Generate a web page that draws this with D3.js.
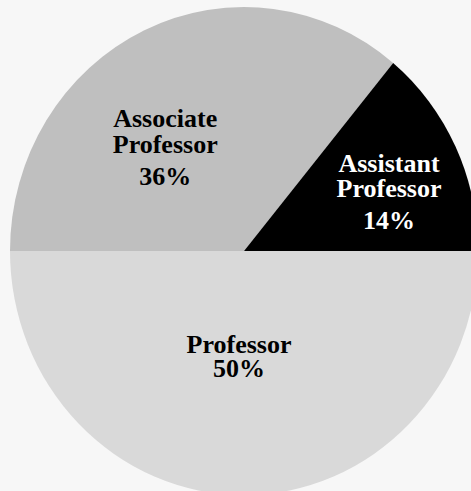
<!DOCTYPE html>
<html>
<head>
<meta charset="utf-8">
<script src="https://cdn.jsdelivr.net/npm/d3@7"></script>
<style>
  html, body { margin: 0; padding: 0; background: #f7f7f7; }
  svg { display: block; }
</style>
</head>
<body>
<svg id="chart" width="471" height="491"></svg>
<script>
// ---- data ----
const categories = ["Professor", "Associate Professor", "Assistant Professor"];
const values = [50, 36, 14];
const percentLabels = ["50%", "36%", "14%"];
const sliceColors = ["#d9d9d9", "#bfbfbf", "#000000"];
const textColors = ["#000000", "#000000", "#ffffff"];

// ---- layout ----
const W = 471, H = 491;
const cx = 244, cy = 251;
const ry = 244, rx = 234;
const labelRadiusFactor = 0.6;
const labelOffsets = [[-5, -44.7], [-19, 8.5], [18, -17]];
const nameLineGap = 25.5;

const svg = d3.select("#chart");
svg.append("rect").attr("width", W).attr("height", H).attr("fill", "#f7f7f7");

const pie = d3.pie()
  .value(d => d.value)
  .sort(null)
  .startAngle(Math.PI / 2)
  .endAngle(Math.PI / 2 + 2 * Math.PI);

const data = categories.map((c, i) => ({
  name: c, value: values[i], pct: percentLabels[i],
  color: sliceColors[i], text: textColors[i], off: labelOffsets[i]
}));
const arcs = pie(data);

const arc = d3.arc().innerRadius(0).outerRadius(ry);
const labelArc = d3.arc().innerRadius(ry * labelRadiusFactor).outerRadius(ry * labelRadiusFactor);

const g = svg.append("g")
  .attr("transform", `translate(${cx},${cy}) scale(${rx / ry},1)`);
g.selectAll("path").data(arcs).join("path")
  .attr("d", arc)
  .attr("fill", d => d.data.color);

const labels = svg.append("g")
  .attr("font-family", "'Liberation Serif', 'Times New Roman', Times, serif")
  .attr("font-weight", "bold")
  .attr("font-size", 26)
  .attr("text-anchor", "middle");

arcs.forEach(d => {
  const [lx, ly] = labelArc.centroid(d);
  const x = cx + lx * (rx / ry) + d.data.off[0];
  const y = cy + ly + d.data.off[1];
  const lines = d.data.name.split(" ");
  const t = labels.append("text")
    .attr("x", x).attr("y", y)
    .attr("fill", d.data.text);
  lines.forEach((ln, i) => {
    t.append("tspan").attr("x", x).attr("dy", i === 0 ? 0 : nameLineGap).text(ln);
  });
  t.append("tspan").attr("x", x)
    .attr("dy", lines.length > 1 ? 32 : 24)
    .text(d.data.pct);
});
</script>
</body>
</html>
